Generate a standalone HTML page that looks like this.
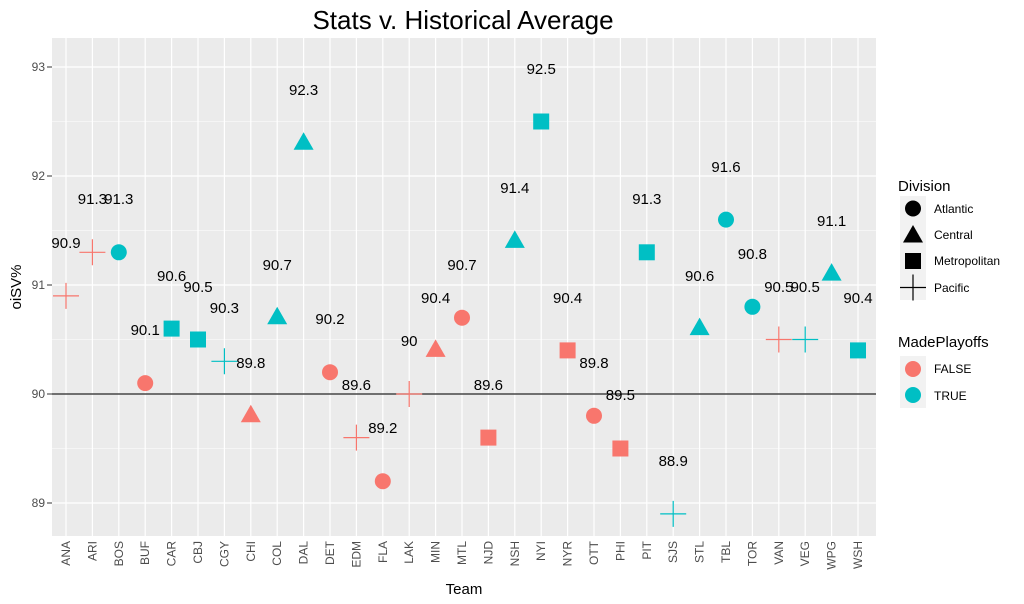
<!DOCTYPE html>
<html><head><style>body{margin:0;background:#fff}svg{display:block;font-family:"Liberation Sans",Arial,sans-serif}</style></head><body>
<svg width="1024" height="604" viewBox="0 0 1024 604" xmlns="http://www.w3.org/2000/svg">
<text x="463" y="29" font-size="26" text-anchor="middle" fill="#000">Stats v. Historical Average</text>
<rect x="52" y="38" width="824" height="498" fill="#ebebeb"/>
<g stroke="#fff" stroke-width="0.6">
<line x1="52" x2="876" y1="121.5" y2="121.5"/><line x1="52" x2="876" y1="230.5" y2="230.5"/><line x1="52" x2="876" y1="339.5" y2="339.5"/><line x1="52" x2="876" y1="448.5" y2="448.5"/>
</g>
<g stroke="#fff" stroke-width="1.2">
<line x1="52" x2="876" y1="67" y2="67"/><line x1="52" x2="876" y1="176" y2="176"/><line x1="52" x2="876" y1="285" y2="285"/><line x1="52" x2="876" y1="394" y2="394"/><line x1="52" x2="876" y1="503" y2="503"/>
<line x1="66" x2="66" y1="38" y2="536"/><line x1="92.4" x2="92.4" y1="38" y2="536"/><line x1="118.8" x2="118.8" y1="38" y2="536"/><line x1="145.2" x2="145.2" y1="38" y2="536"/><line x1="171.6" x2="171.6" y1="38" y2="536"/><line x1="198" x2="198" y1="38" y2="536"/><line x1="224.4" x2="224.4" y1="38" y2="536"/><line x1="250.8" x2="250.8" y1="38" y2="536"/><line x1="277.2" x2="277.2" y1="38" y2="536"/><line x1="303.6" x2="303.6" y1="38" y2="536"/><line x1="330" x2="330" y1="38" y2="536"/><line x1="356.4" x2="356.4" y1="38" y2="536"/><line x1="382.8" x2="382.8" y1="38" y2="536"/><line x1="409.2" x2="409.2" y1="38" y2="536"/><line x1="435.6" x2="435.6" y1="38" y2="536"/><line x1="462" x2="462" y1="38" y2="536"/><line x1="488.4" x2="488.4" y1="38" y2="536"/><line x1="514.8" x2="514.8" y1="38" y2="536"/><line x1="541.2" x2="541.2" y1="38" y2="536"/><line x1="567.6" x2="567.6" y1="38" y2="536"/><line x1="594" x2="594" y1="38" y2="536"/><line x1="620.4" x2="620.4" y1="38" y2="536"/><line x1="646.8" x2="646.8" y1="38" y2="536"/><line x1="673.2" x2="673.2" y1="38" y2="536"/><line x1="699.6" x2="699.6" y1="38" y2="536"/><line x1="726" x2="726" y1="38" y2="536"/><line x1="752.4" x2="752.4" y1="38" y2="536"/><line x1="778.8" x2="778.8" y1="38" y2="536"/><line x1="805.2" x2="805.2" y1="38" y2="536"/><line x1="831.6" x2="831.6" y1="38" y2="536"/><line x1="858" x2="858" y1="38" y2="536"/>
</g>
<line x1="52" x2="876" y1="394" y2="394" stroke="#222" stroke-width="1.3"/>
<g font-size="12" fill="#4d4d4d" text-anchor="end">
<text x="45" y="71">93</text><text x="45" y="180">92</text><text x="45" y="289">91</text><text x="45" y="398">90</text><text x="45" y="507">89</text>
</g>
<g stroke="#333" stroke-width="1">
<line x1="47" x2="52" y1="67" y2="67"/><line x1="47" x2="52" y1="176" y2="176"/><line x1="47" x2="52" y1="285" y2="285"/><line x1="47" x2="52" y1="394" y2="394"/><line x1="47" x2="52" y1="503" y2="503"/>
</g>
<g font-size="12" fill="#4d4d4d" text-anchor="end">
<text transform="translate(70,541) rotate(-90)">ANA</text><text transform="translate(96.4,541) rotate(-90)">ARI</text><text transform="translate(122.8,541) rotate(-90)">BOS</text><text transform="translate(149.2,541) rotate(-90)">BUF</text><text transform="translate(175.6,541) rotate(-90)">CAR</text><text transform="translate(202,541) rotate(-90)">CBJ</text><text transform="translate(228.4,541) rotate(-90)">CGY</text><text transform="translate(254.8,541) rotate(-90)">CHI</text><text transform="translate(281.2,541) rotate(-90)">COL</text><text transform="translate(307.6,541) rotate(-90)">DAL</text><text transform="translate(334,541) rotate(-90)">DET</text><text transform="translate(360.4,541) rotate(-90)">EDM</text><text transform="translate(386.8,541) rotate(-90)">FLA</text><text transform="translate(413.2,541) rotate(-90)">LAK</text><text transform="translate(439.6,541) rotate(-90)">MIN</text><text transform="translate(466,541) rotate(-90)">MTL</text><text transform="translate(492.4,541) rotate(-90)">NJD</text><text transform="translate(518.8,541) rotate(-90)">NSH</text><text transform="translate(545.2,541) rotate(-90)">NYI</text><text transform="translate(571.6,541) rotate(-90)">NYR</text><text transform="translate(598,541) rotate(-90)">OTT</text><text transform="translate(624.4,541) rotate(-90)">PHI</text><text transform="translate(650.8,541) rotate(-90)">PIT</text><text transform="translate(677.2,541) rotate(-90)">SJS</text><text transform="translate(703.6,541) rotate(-90)">STL</text><text transform="translate(730,541) rotate(-90)">TBL</text><text transform="translate(756.4,541) rotate(-90)">TOR</text><text transform="translate(782.8,541) rotate(-90)">VAN</text><text transform="translate(809.2,541) rotate(-90)">VEG</text><text transform="translate(835.6,541) rotate(-90)">WPG</text><text transform="translate(862,541) rotate(-90)">WSH</text>
</g>
<text x="464" y="594" font-size="15" text-anchor="middle">Team</text>
<text transform="translate(21,287) rotate(-90)" font-size="15" text-anchor="middle">oiSV%</text>
<g stroke-width="1.2" fill="none">
<path d="M53 295.9h26M66 282.9v26M79.4 252.3h26M92.4 239.3v26M343.4 437.6h26M356.4 424.6v26M396.2 394h26M409.2 381v26M765.8 339.5h26M778.8 326.5v26" stroke="#F8766D"/>
<path d="M211.4 361.3h26M224.4 348.3v26M660.2 513.9h26M673.2 500.9v26M792.2 339.5h26M805.2 326.5v26" stroke="#00BFC4"/>
</g>
<g fill="#F8766D">
<circle cx="145.2" cy="383.1" r="8"/><circle cx="330" cy="372.2" r="8"/><circle cx="382.8" cy="481.2" r="8"/><circle cx="462" cy="317.7" r="8"/><circle cx="594" cy="415.8" r="8"/>
<path d="M250.8 404.8l10 17.5h-20z"/><path d="M435.6 339.4l10 17.5h-20z"/>
<rect x="480.4" y="429.6" width="16" height="16"/><rect x="559.6" y="342.4" width="16" height="16"/><rect x="612.4" y="440.5" width="16" height="16"/>
</g>
<g fill="#00BFC4">
<circle cx="118.8" cy="252.3" r="8"/><circle cx="726" cy="219.6" r="8"/><circle cx="752.4" cy="306.8" r="8"/>
<path d="M277.2 306.7l10 17.5h-20z"/><path d="M303.6 132.3l10 17.5h-20z"/><path d="M514.8 230.4l10 17.5h-20z"/><path d="M699.6 317.6l10 17.5h-20z"/><path d="M831.6 263.1l10 17.5h-20z"/>
<rect x="163.6" y="320.6" width="16" height="16"/><rect x="190" y="331.5" width="16" height="16"/><rect x="533.2" y="113.5" width="16" height="16"/><rect x="638.8" y="244.3" width="16" height="16"/><rect x="850" y="342.4" width="16" height="16"/>
</g>
<g font-size="15" fill="#000" text-anchor="middle">
<text x="66" y="248">90.9</text><text x="92.4" y="204">91.3</text><text x="118.8" y="204">91.3</text><text x="145.2" y="335">90.1</text><text x="171.6" y="281">90.6</text><text x="198" y="292">90.5</text><text x="224.4" y="313">90.3</text><text x="250.8" y="368">89.8</text><text x="277.2" y="270">90.7</text><text x="303.6" y="95">92.3</text><text x="330" y="324">90.2</text><text x="356.4" y="390">89.6</text><text x="382.8" y="433">89.2</text><text x="409.2" y="346">90</text><text x="435.6" y="303">90.4</text><text x="462" y="270">90.7</text><text x="488.4" y="390">89.6</text><text x="514.8" y="193">91.4</text><text x="541.2" y="74">92.5</text><text x="567.6" y="303">90.4</text><text x="594" y="368">89.8</text><text x="620.4" y="400">89.5</text><text x="646.8" y="204">91.3</text><text x="673.2" y="466">88.9</text><text x="699.6" y="281">90.6</text><text x="726" y="172">91.6</text><text x="752.4" y="259">90.8</text><text x="778.8" y="292">90.5</text><text x="805.2" y="292">90.5</text><text x="831.6" y="226">91.1</text><text x="858" y="303">90.4</text>
</g>
<text x="898" y="191" font-size="15">Division</text>
<rect x="900" y="196" width="26" height="104" fill="#f2f2f2"/>
<circle cx="913" cy="208.5" r="8"/>
<path d="M913 225l10 17.5h-20z"/>
<rect x="905" y="253" width="16" height="16"/>
<path d="M900 287.5h26M913 274.5v26" stroke="#000" stroke-width="1.2"/>
<g font-size="12"><text x="934" y="213">Atlantic</text><text x="934" y="239">Central</text><text x="934" y="265">Metropolitan</text><text x="934" y="292">Pacific</text></g>
<text x="898" y="347" font-size="15">MadePlayoffs</text>
<rect x="900" y="356" width="26" height="52" fill="#f2f2f2"/>
<circle cx="913" cy="369" r="8" fill="#F8766D"/><circle cx="913" cy="395" r="8" fill="#00BFC4"/>
<g font-size="12"><text x="934" y="373">FALSE</text><text x="934" y="400">TRUE</text></g>
</svg>
</body></html>
